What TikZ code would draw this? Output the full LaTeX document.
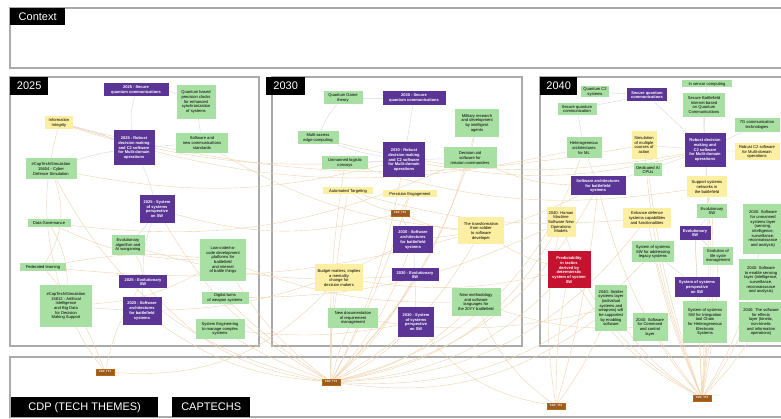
\documentclass[tikz,border=0pt]{standalone}
\usepackage{fontspec}
\setmainfont{Liberation Sans}
\definecolor{pur}{HTML}{5A3596}
\definecolor{grn}{HTML}{A8DFA2}
\definecolor{yel}{HTML}{FCEFA2}
\definecolor{rdc}{HTML}{C4122F}
\definecolor{brn}{HTML}{9A5B1E}
\definecolor{tanc}{HTML}{F0D3AE}
\definecolor{lav}{HTML}{D9D6E8}
\definecolor{frm}{HTML}{AAAAAA}
\pgfdeclarelayer{bgfill}
\pgfdeclarelayer{frames}
\pgfdeclarelayer{edges}
\pgfsetlayers{bgfill,frames,edges,main}
\tikzset{
  base/.style={rectangle, inner sep=0.8pt, align=center, font=\fontsize{4.1}{4.7}\selectfont},
  gn/.style={base, fill=grn},
  pu/.style={base, fill=pur, text=white, font=\fontsize{4}{4.7}\selectfont\bfseries},
  ye/.style={base, fill=yel},
  rd/.style={base, fill=rdc, text=white, font=\fontsize{4}{4.7}\selectfont\bfseries},
  cdp/.style={rectangle, fill=brn, text=white, draw=brn!70!orange, line width=0.4pt, inner sep=0.6pt, minimum width=18pt, minimum height=6pt, font=\fontsize{2.8}{3}\selectfont\bfseries},
  tag/.style={rectangle, fill=black, text=white, anchor=north west, inner sep=2pt, minimum height=18pt, font=\fontsize{11}{13}\selectfont},
  frame/.style={draw=frm, line width=1.3pt},
  lk/.style={draw=tanc, line width=0.4pt},
  lg/.style={draw=lav, line width=0.4pt}
}
\begin{document}
\begin{tikzpicture}[x=1pt,y=-1pt]
\useasboundingbox (0,0) rectangle (781,419);
\begin{pgfonlayer}{bgfill}
\fill[white] (0,0) rectangle (781,419);
\end{pgfonlayer}

% ---------- tags ----------
\node[tag, minimum width=55pt, minimum height=17pt] (tctx) at (10,8) {Context};
\node[tag, minimum width=38pt] (t25) at (10,77) {2025};
\node[tag, minimum width=39pt] (t30) at (266,77) {2030};
\node[tag, minimum width=37pt] (t40) at (540,77) {2040};
\node[tag, minimum width=147pt, minimum height=20pt] (tcdp) at (11,397) {CDP (TECH THEMES)};
\node[tag, minimum width=78pt, minimum height=20pt] (tcap) at (172,397) {CAPTECHS};

% ---------- 2025 ----------
\node[pu, minimum width=65pt, minimum height=13pt] (s25) at (136,90) {2025 - Secure\\quantum communications};
\node[gn, minimum width=39pt, minimum height=34pt] (clk) at (196,102) {Quantum based\\precision clocks\\for enhanced\\synchronization\\of systems};
\node[ye, minimum width=28pt, minimum height=13pt] (info) at (59,123) {Information\\Integrity};
\node[pu, minimum width=41pt, minimum height=35pt] (rob25) at (134,148) {2025 - Robust\\decision making\\and C2 software\\for Multi-domain\\operations};
\node[gn, minimum width=52pt, minimum height=20pt] (swstd) at (202,143) {Software and\\new communications\\standards};
\node[gn, minimum width=51pt, minimum height=21pt] (cyb) at (51,169) {\#CapTech/Simulation\\15604 - Cyber\\Defence Simulation};
\node[pu, minimum width=35pt, minimum height=28pt] (sos25) at (157,209) {2025 - System\\of systems\\perspective\\on SW};
\node[gn, minimum width=43pt, minimum height=8pt] (dgov) at (49,223) {Data Governance};
\node[gn, minimum width=33pt, minimum height=20pt] (evalg) at (128,245) {Evolutionary\\algorithm and\\AI wargaming};
\node[gn, minimum width=46pt, minimum height=42pt] (lowc) at (223,260) {Low-code/no-\\code development\\platforms for\\battlefield\\and internet\\of battle things};
\node[gn, minimum width=46pt, minimum height=8pt] (fed) at (43,267) {Federated learning};
\node[pu, minimum width=48pt, minimum height=13pt] (evo25) at (143,282) {2025 - Evolutionary\\SW};
\node[gn, minimum width=47pt, minimum height=12pt] (dtw) at (225,298) {Digital twins\\of weapon systems};
\node[gn, minimum width=52pt, minimum height=42pt] (cap2) at (66,306) {\#CapTech/Simulation\\15812 - Artificial\\Intelligence\\and Big Data\\for Decision\\Making Support};
\node[pu, minimum width=39pt, minimum height=28pt] (arc25) at (142,311) {2025 - Software\\architectures\\for battlefield\\systems};
\node[gn, minimum width=49pt, minimum height=20pt] (syse) at (220,329) {System Engineering\\to manage complex\\systems};

% ---------- 2030 ----------
\node[gn, minimum width=39pt, minimum height=13pt] (qgt) at (343,98) {Quantum Game\\theory};
\node[pu, minimum width=63pt, minimum height=14pt] (s30) at (414,98) {2030 - Secure\\quantum communications};
\node[gn, minimum width=44pt, minimum height=28pt] (mil) at (477,123) {Military research\\and development\\by intelligent\\agents};
\node[gn, minimum width=41pt, minimum height=13pt] (mec) at (318,138) {Multi-access\\edge computing};
\node[pu, minimum width=42pt, minimum height=35pt] (rob30) at (404,160) {2030 - Robust\\decision making\\and C2 software\\for Multi-domain\\operations};
\node[gn, minimum width=53pt, minimum height=21pt] (daid) at (470,158) {Decision aid\\software for\\mission commanders};
\node[gn, minimum width=46pt, minimum height=13pt] (ulc) at (345,163) {Unmanned logistic\\convoys};
\node[ye, minimum width=50pt, minimum height=7pt] (autot) at (348,191) {Automated Targeting};
\node[ye, minimum width=54pt, minimum height=7pt] (prec) at (410,194) {Precision Engagement};
\node[cdp] (tt6a) at (400,213) {CDP\_TT6};
\node[pu, minimum width=40pt, minimum height=27pt] (arc30) at (413,240) {2030 - Software\\architectures\\for battlefield\\systems};
\node[ye, minimum width=46pt, minimum height=27pt] (trf) at (481,231) {The transformation\\from soldier\\to software\\developer};
\node[ye, minimum width=48pt, minimum height=27pt] (bud) at (339,278) {Budget matters, implies\\a mentality\\change for\\decision makers};
\node[pu, minimum width=47pt, minimum height=13pt] (evo30) at (415,275) {2030 - Evolutionary\\SW};
\node[gn, minimum width=49pt, minimum height=28pt] (nmeth) at (476,302) {New methodology\\and software\\languages for\\the 20YY battlefield};
\node[gn, minimum width=50pt, minimum height=20pt] (ndoc) at (353,318) {New documentation\\of requirement\\management};
\node[pu, minimum width=36pt, minimum height=29pt] (sos30) at (416,322) {2030 - System\\of systems\\perspective\\on SW};

% ---------- 2040 ----------
\node[gn, minimum width=28pt, minimum height=11pt] (qc2) at (595,92) {Quantum C2\\systems};
\node[pu, minimum width=40pt, minimum height=13pt] (s40) at (647,95) {Secure quantum\\communications};
\node[gn, minimum width=50pt, minimum height=7pt] (isc) at (707,84) {In sensor computing};
\node[gn, minimum width=39pt, minimum height=12pt] (sqc) at (577,109) {Secure quantum\\communication};
\node[gn, minimum width=42pt, minimum height=24pt] (sbi) at (704,105) {Secure Battlefield\\Internet based\\on Quantum\\Communications};
\node[gn, minimum width=45pt, minimum height=14pt] (g7) at (757,125) {7G communication\\technologies};
\node[gn, minimum width=35pt, minimum height=21pt] (het) at (584,148) {Heterogeneous\\architectures\\for ML};
\node[ye, minimum width=25pt, minimum height=28pt] (sim) at (644,145) {Simulation\\of multiple\\courses of\\action};
\node[pu, minimum width=41pt, minimum height=34pt] (rob40) at (705,150) {Robust decision\\making and\\C2 software\\for Multi-domain\\operations};
\node[ye, minimum width=45pt, minimum height=17pt] (rc2) at (757,152) {Robust C2 software\\for Multi-domain\\operations};
\node[gn, minimum width=28pt, minimum height=13pt] (cpu) at (648,170) {Dedicated AI\\CPUs};
\node[pu, minimum width=55pt, minimum height=19pt] (arc40) at (598,186) {Software architectures\\for battlefield\\systems};
\node[ye, minimum width=40pt, minimum height=21pt] (sup) at (707,187) {Support systems\\networks in\\the battlefield};
\node[ye, minimum width=29pt, minimum height=30pt] (hum) at (561,222) {2040: Human\\Machine\\Software New\\Operations\\Models};
\node[ye, minimum width=48pt, minimum height=20pt] (enh) at (647,218) {Enhance defence\\systems capabilities\\and functionalities};
\node[gn, minimum width=30pt, minimum height=14pt] (evg) at (712,211) {Evolutionary\\SW};
\node[gn, minimum width=40pt, minimum height=50pt] (unm) at (763,229) {2040: Software\\for unmanned\\systems layer\\(sensing,\\intelligence,\\surveillance,\\reconnaissance\\and analysis)};
\node[pu, minimum width=31pt, minimum height=14pt] (evp) at (695,233) {Evolutionary\\SW};
\node[gn, minimum width=42pt, minimum height=21pt] (leg) at (653,252) {System of systems\\SW for addressing\\legacy systems};
\node[gn, minimum width=30pt, minimum height=18pt] (elc) at (718,256) {Evolution of\\life cycle\\management};
\node[rd, minimum width=43pt, minimum height=37pt] (pred) at (569,270) {Predictability\\in tactics\\derived by\\deterministic\\system of system\\SW};
\node[gn, minimum width=44pt, minimum height=41pt] (sen) at (761,280) {2040: Software\\to enable sensing\\layer (intelligence,\\surveillance,\\reconnaissance\\and analysis)};
\node[pu, minimum width=45pt, minimum height=20pt] (sos40) at (697,287) {System of systems\\perspective\\on SW};
\node[gn, minimum width=32pt, minimum height=46pt] (sol) at (611,308) {2040: Soldier\\systems layer\\(individual\\systems and\\weapons) will\\be supported\\by enabling\\software};
\node[gn, minimum width=35pt, minimum height=27pt] (cmd) at (650,327) {2040: Software\\for Command\\and control\\layer};
\node[gn, minimum width=44pt, minimum height=41pt] (intg) at (705,322) {System of systems\\SW for Integration\\tool Chain\\for Heterogeneous\\Electronic\\Systems};
\node[gn, minimum width=44pt, minimum height=39pt] (eff) at (761,322) {2040: The software\\for effects\\layer (kinetic,\\non-kinetic\\and information\\operations)};

% ---------- CDP nodes ----------
\node[cdp] (tt1) at (105,372) {CDP\_TT1};
\node[cdp] (tt2) at (331,382) {CDP\_TT2};
\node[cdp] (tt6) at (556,406) {CDP\_TT6};
\node[cdp] (tt4) at (702,398) {CDP\_TT4};

% ---------- frames ----------
\begin{pgfonlayer}{frames}
\draw[frame] (781,8) -- (10,8) -- (10,68) -- (781,68);
\draw[frame] (10,77) rectangle (259,346);
\draw[frame] (272,77) rectangle (522,346);
\draw[frame] (781,77) -- (540,77) -- (540,346) -- (781,346);
\draw[frame] (781,357) -- (10,357) -- (10,417) -- (781,417);
\end{pgfonlayer}

% ---------- edges ----------
\begin{pgfonlayer}{edges}
\foreach \a/\b/\c in {
  tt1/cap2/5, tt1/fed/-10, tt1/evo25/10, tt1/bud/-25,
  tt2/lowc/10, tt2/dtw/5, tt2/syse/5, tt2/arc25/15, tt2/evo25/20, tt2/sos25/15, tt2/cyb/25,
  tt2/bud/5, tt2/ndoc/5, tt2/sos30/-10, tt2/evo30/-10, tt2/arc30/-10, tt2/trf/-15, tt2/nmeth/-15,
  tt2/prec/-5, tt2/autot/5, tt2/ulc/5, tt2/rob30/-8, tt2/daid/-12, tt2/mil/-15,
  tt2/hum/-25, tt2/pred/-20, tt2/arc40/-25, tt2/het/-28, tt2/sol/-22, tt2/leg/-25, tt2/enh/-25,
  tt4/sol/10, tt4/cmd/5, tt4/intg/0, tt4/eff/-5, tt4/sen/-8, tt4/unm/-10, tt4/sos40/0, tt4/elc/-5,
  tt4/evp/0, tt4/evg/-5, tt4/leg/5, tt4/enh/5, tt4/pred/15, tt4/sup/-3, tt4/rob40/-5, tt4/sim/8,
  tt4/cpu/6, tt4/hum/20, tt4/arc40/12,
  tt6/pred/5, tt6/hum/10, tt6/nmeth/15, tt6/arc40/-5, tt6/sol/-5, tt6/sos30/20,
  tt6a/prec/0, tt6a/autot/10, tt6a/arc30/0, tt6a/trf/-10, tt6a/sos25/15,
  info/het/-15, info/sim/-12, info/rob30/-10, cyb/rob30/-12, dgov/lowc/-12, dgov/daid/-15,
  fed/trf/-10, fed/lowc/8, evalg/evo30/-10, evalg/evo25/15, cap2/lowc/-12, cap2/arc30/-15,
  info/cap2/-15, cyb/fed/25, dgov/cap2/15, mec/rob40/-12, ulc/sup/-12, autot/enh/-10,
  swstd/trf/-12, lowc/nmeth/-10, dtw/hum/-12, syse/sos30/-8, bud/pred/-10, ndoc/sol/-10,
  trf/pred/-8, nmeth/cmd/-10, daid/arc40/-10, rob30/rob40/-12, arc30/arc40/-10
} { \draw[lk] (\a) to[bend left=\c] (\b); }
\foreach \a/\b/\c in {
  s25/clk/10, s25/rob25/-10, rob25/swstd/0, swstd/clk/0, rob25/sos25/5, sos25/evo25/-10,
  evo25/arc25/0, sos25/evalg/5, rob25/cyb/-5, info/rob25/5,
  s30/rob30/0, s30/qgt/0, rob30/daid/0, daid/mil/0, rob30/ulc/0, rob30/mec/5,
  arc30/evo30/0, evo30/sos30/0, qgt/mec/-10,
  s40/sqc/0, s40/qc2/0, s40/rob40/0, rob40/isc/5, rob40/sbi/0, rob40/g7/0, rob40/rc2/0,
  rob40/sup/0, rob40/sim/0, rob40/cpu/0, sqc/het/0, het/arc40/0, arc40/cpu/0,
  sos40/leg/0, sos40/intg/0, evp/evg/0, evp/elc/0, sos40/evp/0, sup/evg/0
} { \draw[lg] (\a) to[bend left=\c] (\b); }
\end{pgfonlayer}
\end{tikzpicture}
\end{document}
